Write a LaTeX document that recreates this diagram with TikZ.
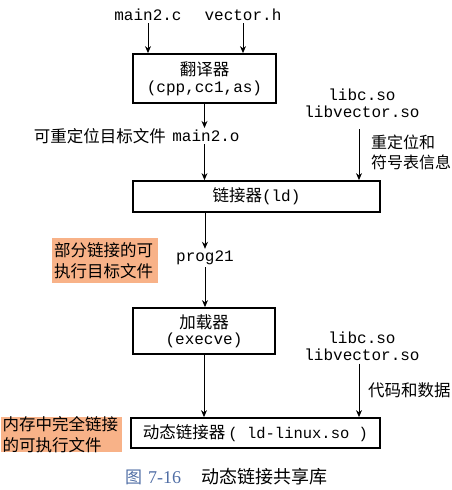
\documentclass[tikz,border=0pt]{standalone}
\usepackage{fontspec}
\newfontfamily\cjk{Noto Sans CJK SC}
\newfontfamily\mono{Liberation Mono}
\newfontfamily\capserif{Liberation Serif}
\usetikzlibrary{arrows.meta}
\definecolor{notefill}{RGB}{248,178,136}
\definecolor{capblue}{RGB}{80,110,165}
\begin{document}
\begin{tikzpicture}[x=1pt,y=-1pt,
  stagebox/.style={draw, line width=1.8pt, inner sep=0pt, align=center},
  txt/.style={inner sep=2pt},
  monotxt/.style={txt, font=\mono\fontsize{16}{17}\selectfont, align=center},
  cjktxt/.style={txt, font=\cjk\fontsize{16.5}{19.5}\selectfont, align=left},
  note/.style={fill=notefill, inner sep=0pt, align=left,
    font=\cjk\fontsize{16.5}{20.5}\selectfont},
  flow/.style={line width=1pt, -{Stealth[length=7pt,width=6pt]}}]
  \useasboundingbox (0,0) rectangle (452,490);

  % inputs of the translator
  \node[monotxt] (mainc) at (148,15) {main2.c};
  \node[monotxt] (vech) at (243,15) {vector.h};

  % translator
  \node[stagebox, minimum width=143pt, minimum height=49pt] (trans) at (204.5,78.5)
    {{\cjk\fontsize{16.5}{21}\selectfont 翻译器}\\[3pt]{\mono\fontsize{16}{21}\selectfont (cpp,cc1,as)}};

  % relocatable object file
  \node[monotxt] (maino) at (206,136) {main2.o};
  \node[cjktxt, anchor=east] (mainolab) at ([xshift=-2pt]maino.west) {可重定位目标文件};

  % shared libraries for the static link step
  \node[monotxt] (libsA) at (362,103.5) {libc.so\\libvector.so};
  \node[cjktxt, anchor=west, font=\cjk\fontsize{16}{19.5}\selectfont] (relinfo) at (369,152.5) {重定位和\\符号表信息};

  % linker
  \node[stagebox, minimum width=247pt, minimum height=31pt] (linker) at (256.5,196.5)
    {{\cjk\fontsize{16.5}{20}\selectfont 链接器}{\mono\fontsize{16}{20}\selectfont (ld)}};

  % partially linked executable
  \node[monotxt] (prog) at (205,258) {prog21};
  \node[note, minimum width=106pt, minimum height=45pt, text width=102pt] (partial) at (105,260.5)
    {部分链接的可\\执行目标文件};

  % loader
  \node[stagebox, minimum width=142pt, minimum height=46pt] (loader) at (204,331)
    {{\cjk\fontsize{16.5}{20}\selectfont 加载器}\\[2pt]{\mono\fontsize{16}{20}\selectfont (execve)}};

  % shared libraries for the dynamic link step
  \node[monotxt] (libsB) at (362,346) {libc.so\\libvector.so};
  \node[cjktxt, anchor=west] (codedata) at (366,390) {代码和数据};

  % dynamic linker
  \node[stagebox, minimum width=249pt, minimum height=30pt] (dyn) at (255.5,433)
    {{\cjk\fontsize{16.5}{20}\selectfont 动态链接器}\hspace{3pt}{\mono\fontsize{15.5}{20}\selectfont( ld-linux.so )}};

  % fully linked executable in memory
  \node[note, minimum width=121pt, minimum height=35pt, text width=118pt] (full) at (61.5,434.5)
    {内存中完全链接\\的可执行文件};

  % caption
  \node[anchor=west, inner sep=0pt, text=capblue] (capnum) at (125,477)
    {{\cjk\fontsize{17}{20}\selectfont 图}\hspace{6pt}{\capserif\fontsize{18}{20}\selectfont 7-16}};
  \node[anchor=west, inner sep=0pt, font=\cjk\fontsize{18}{20}\selectfont] (captitle) at (201,477)
    {动态链接共享库};

  % connectors
  \draw[flow] (mainc.south) -- (mainc.south |- trans.north);
  \draw[flow] (vech.south) -- (vech.south |- trans.north);
  \draw[flow] (trans.south) -- (trans.south |- maino.north);
  \draw[flow] (trans.south |- maino.south) -- (trans.south |- linker.north);
  \draw[flow, shorten <=9pt] ([xshift=-3pt]libsA.south) -- ([xshift=-3pt]libsA.south |- linker.north);
  \draw[flow] (prog.north |- linker.south) -- (prog.north);
  \draw[flow] (prog.south) -- (prog.south |- loader.north);
  \draw[flow] (loader.south) -- (loader.south |- dyn.north);
  \draw[flow, shorten <=1pt] ([xshift=-3pt]libsB.south) -- ([xshift=-3pt]libsB.south |- dyn.north);
\end{tikzpicture}
\end{document}
